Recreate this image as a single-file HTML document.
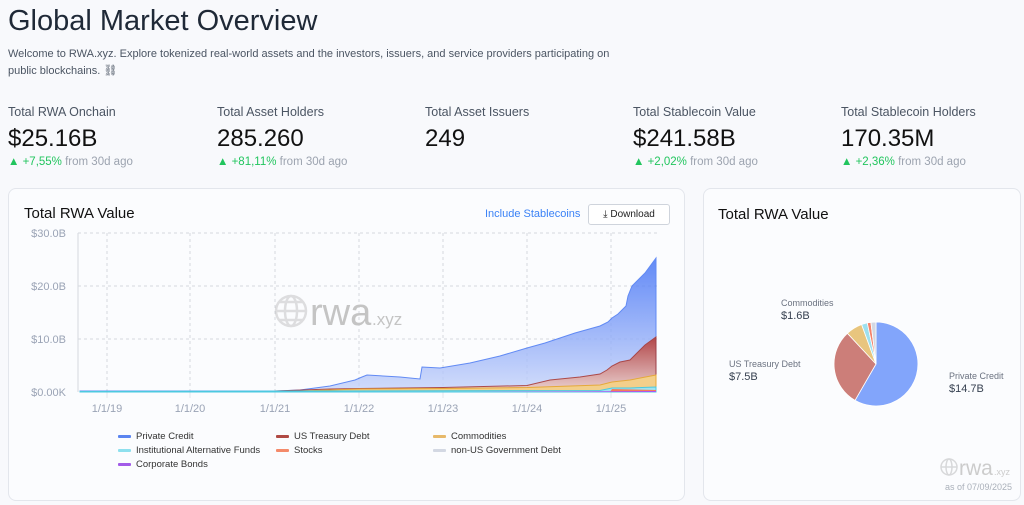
<!DOCTYPE html>
<html><head><meta charset="utf-8"><style>
html,body{margin:0;width:1024px;height:505px;overflow:hidden}
body{background:#f8f9fc;font-family:"Liberation Sans",sans-serif;color:#1e2533;position:relative}
.a{position:absolute;white-space:nowrap}
h1{position:absolute;left:8px;top:5px;margin:0;font-size:29px;font-weight:400;color:#1f2937}
.sub{font-size:11px;color:#4b5563;line-height:17px}
.lab{font-size:12.5px;color:#4b5563}
.val{font-size:24px;color:#111}
.chg{font-size:11.5px;color:#9ca3af}.chg b{color:#22c55e;font-weight:400}
.card{position:absolute;background:#fbfcfe;border:1px solid #e3e6ec;border-radius:8px;box-sizing:border-box}
.ax{font-size:11px;fill:#9aa3b5;font-family:"Liberation Sans",sans-serif}
.lg{font-size:9.5px;color:#333}
.sw{display:inline-block;width:13px;height:3px;vertical-align:middle;margin-right:5px;border-radius:1px}
</style></head><body>
<h1>Global Market Overview</h1>
<div class="a sub" style="left:8px;top:46px">Welcome to RWA.xyz. Explore tokenized real-world assets and the investors, issuers, and service providers participating on<br>public blockchains. ⛓</div>

<div class="a lab" style="left:8px;top:105px">Total RWA Onchain</div>
<div class="a val" style="left:8px;top:125px">$25.16B</div>
<div class="a chg" style="left:8px;top:156px"><b>▲ +7,55%</b> from 30d ago</div>
<div class="a lab" style="left:217px;top:105px">Total Asset Holders</div>
<div class="a val" style="left:217px;top:125px">285.260</div>
<div class="a chg" style="left:217px;top:156px"><b>▲ +81,11%</b> from 30d ago</div>
<div class="a lab" style="left:425px;top:105px">Total Asset Issuers</div>
<div class="a val" style="left:425px;top:125px">249</div>
<div class="a lab" style="left:633px;top:105px">Total Stablecoin Value</div>
<div class="a val" style="left:633px;top:125px">$241.58B</div>
<div class="a chg" style="left:633px;top:156px"><b>▲ +2,02%</b> from 30d ago</div>
<div class="a lab" style="left:841px;top:105px">Total Stablecoin Holders</div>
<div class="a val" style="left:841px;top:125px">170.35M</div>
<div class="a chg" style="left:841px;top:156px"><b>▲ +2,36%</b> from 30d ago</div>

<div class="card" style="left:8px;top:188px;width:677px;height:313px"></div>
<div class="a" style="left:24px;top:205px;font-size:15px;color:#111">Total RWA Value</div>
<div class="a" style="left:485px;top:208px;font-size:11px;color:#3b82f6">Include Stablecoins</div>
<div class="a" style="left:588px;top:204px;width:80px;height:19px;border:1px solid #cfd4dc;border-radius:3px;background:#fff;font-size:10px;line-height:19px;text-align:center;color:#222">⤓ Download</div>

<svg class="a" style="left:0;top:0" width="690" height="505">
<defs><linearGradient id="gb" x1="0" y1="0" x2="0" y2="1"><stop offset="0" stop-color="#3d6ef5"/><stop offset="1" stop-color="#c9d6fb"/></linearGradient>
<linearGradient id="gr" x1="0" y1="0" x2="0" y2="1"><stop offset="0" stop-color="#b4322a"/><stop offset="1" stop-color="#f0d2cc"/></linearGradient></defs>
<g stroke="#d6d9df" stroke-dasharray="3,3" stroke-width="1">
<line x1="78" y1="233" x2="660" y2="233"/><line x1="78" y1="286" x2="660" y2="286"/><line x1="78" y1="339" x2="660" y2="339"/>
<line x1="107" y1="233" x2="107" y2="392"/><line x1="190" y1="233" x2="190" y2="392"/><line x1="275" y1="233" x2="275" y2="392"/><line x1="359" y1="233" x2="359" y2="392"/><line x1="443" y1="233" x2="443" y2="392"/><line x1="527" y1="233" x2="527" y2="392"/><line x1="611" y1="233" x2="611" y2="392"/>
</g>
<line x1="78" y1="233" x2="78" y2="392" stroke="#d6d9df"/>
<g class="ax" text-anchor="end"><text x="66" y="237">$30.0B</text><text x="66" y="290">$20.0B</text><text x="66" y="343">$10.0B</text><text x="66" y="396">$0.00K</text></g>
<g class="ax" text-anchor="middle"><text x="107" y="412">1/1/19</text><text x="190" y="412">1/1/20</text><text x="275" y="412">1/1/21</text><text x="359" y="412">1/1/22</text><text x="443" y="412">1/1/23</text><text x="527" y="412">1/1/24</text><text x="611" y="412">1/1/25</text></g>
<g stroke="#e3e6ec"><line x1="107" y1="392" x2="107" y2="398"/><line x1="190" y1="392" x2="190" y2="398"/><line x1="275" y1="392" x2="275" y2="398"/><line x1="359" y1="392" x2="359" y2="398"/><line x1="443" y1="392" x2="443" y2="398"/><line x1="527" y1="392" x2="527" y2="398"/><line x1="611" y1="392" x2="611" y2="398"/></g>
<g opacity="0.3" fill="none" stroke="#999" stroke-width="2.5"><circle cx="291" cy="311" r="15"/><ellipse cx="291" cy="311" rx="6" ry="15"/><line x1="276" y1="311" x2="306" y2="311"/><line x1="279" y1="302" x2="303" y2="302"/><line x1="279" y1="320" x2="303" y2="320"/></g>
<text x="310" y="325" font-size="38" fill="#c4c4c4" font-family="Liberation Sans,sans-serif">rwa</text><text x="372" y="325" font-size="17" fill="#c4c4c4" font-family="Liberation Sans,sans-serif">.xyz</text>
<path d="M80 391 L275 391 L300 390 L330 386 L355 380 L362 377 L367 375 L400 377 L420 379 L422 367 L440 368 L470 363 L500 356 L527 348 L545 343 L575 333 L600 326 L608 322 L612 318 L618 314 L622 310 L626 306 L628 296 L632 286 L645 273 L656 258 L656 392 L80 392Z" fill="url(#gb)" opacity="0.8" stroke="#3b6ef2" stroke-width="1"/>
<path d="M275 391 L330 389 L359 388.5 L443 387.5 L527 385.5 L550 380 L580 377 L600 374 L607 370 L612 366 L620 362 L630 360 L638 352 L645 345 L656 337 L656 392 L275 392Z" fill="url(#gr)" opacity="0.85" stroke="#a8322b" stroke-width="1"/>
<path d="M300 391 L359 389 L443 388.5 L527 387.5 L600 385 L612 382 L630 380 L656 375 L656 392 L300 392Z" fill="#f3cf8b" stroke="#e5a93a" stroke-width="1"/>
<path d="M80 391.5 L600 390.5 L612 388 L630 388 L656 387 L656 392 L80 392Z" fill="#9fe3f0" stroke="#4cc9e0" stroke-width="1"/>
<path d="M610 392 L612 389 L656 390 L656 392Z" fill="#f47b5a"/>
<path d="M470 392 L656 391 L656 392Z" fill="#a855f7"/>
</svg>
<div class="a lg" style="left:118px;top:431px"><span class="sw" style="background:#5b85f0"></span>Private Credit</div>
<div class="a lg" style="left:118px;top:445px"><span class="sw" style="background:#8ee0ee"></span>Institutional Alternative Funds</div>
<div class="a lg" style="left:118px;top:459px"><span class="sw" style="background:#a25be8"></span>Corporate Bonds</div>
<div class="a lg" style="left:276px;top:431px"><span class="sw" style="background:#b04a44"></span>US Treasury Debt</div>
<div class="a lg" style="left:276px;top:445px"><span class="sw" style="background:#f48a6a"></span>Stocks</div>
<div class="a lg" style="left:433px;top:431px"><span class="sw" style="background:#e7b96a"></span>Commodities</div>
<div class="a lg" style="left:433px;top:445px"><span class="sw" style="background:#d3d8e3"></span>non-US Government Debt</div>

<div class="card" style="left:703px;top:188px;width:318px;height:313px"></div>
<div class="a" style="left:718px;top:206px;font-size:15px;color:#111">Total RWA Value</div>
<svg class="a" style="left:700px;top:190px" width="324" height="312">
<g transform="translate(-700,-190)" stroke="#fff" stroke-width="0.8">
<path d="M876 364 L876 322 A42 42 0 1 1 855 400.4Z" fill="#82a5fb"/>
<path d="M876 364 L855 400.4 A42 42 0 0 1 847.4 333.3Z" fill="#cc7e79"/>
<path d="M876 364 L847.4 333.3 A42 42 0 0 1 861.6 324.5Z" fill="#e8c57e"/>
<path d="M876 364 L861.6 324.5 A42 42 0 0 1 867.3 322.9Z" fill="#9de0ef"/>
<path d="M876 364 L867.3 322.9 A42 42 0 0 1 870.9 322.3Z" fill="#f4826a"/>
<path d="M876 364 L870.9 322.3 A42 42 0 0 1 876 322Z" fill="#d3d8e3"/>
</g>
<g fill="none" stroke-width="1"><path d="M156 332 L142 320 L135 318" stroke="#e8c57e"/><path d="M108 350 L84 356 L76 357" stroke="#cc7e79"/><path d="M216 370 L242 380" stroke="#82a5fb"/></g>
<g opacity="0.3" fill="none" stroke="#888" stroke-width="1.5"><circle cx="249" cy="277" r="8"/><ellipse cx="249" cy="277" rx="3" ry="8"/><line x1="241" y1="277" x2="257" y2="277"/></g>
<text x="259" y="285" font-size="21" fill="#cccccc" font-family="Liberation Sans,sans-serif">rwa</text><text x="294" y="285" font-size="9" fill="#cccccc" font-family="Liberation Sans,sans-serif">.xyz</text>
</svg>
<div class="a" style="left:781px;top:298px;font-size:9px;color:#6b7280">Commodities</div>
<div class="a" style="left:781px;top:310px;font-size:11px;color:#374151">$1.6B</div>
<div class="a" style="left:729px;top:359px;font-size:9px;color:#6b7280">US Treasury Debt</div>
<div class="a" style="left:729px;top:371px;font-size:11px;color:#374151">$7.5B</div>
<div class="a" style="left:949px;top:371px;font-size:9px;color:#6b7280">Private Credit</div>
<div class="a" style="left:949px;top:383px;font-size:11px;color:#374151">$14.7B</div>
<div class="a" style="left:945px;top:482px;font-size:9px;color:#aab0ba">as of 07/09/2025</div>
</body></html>
